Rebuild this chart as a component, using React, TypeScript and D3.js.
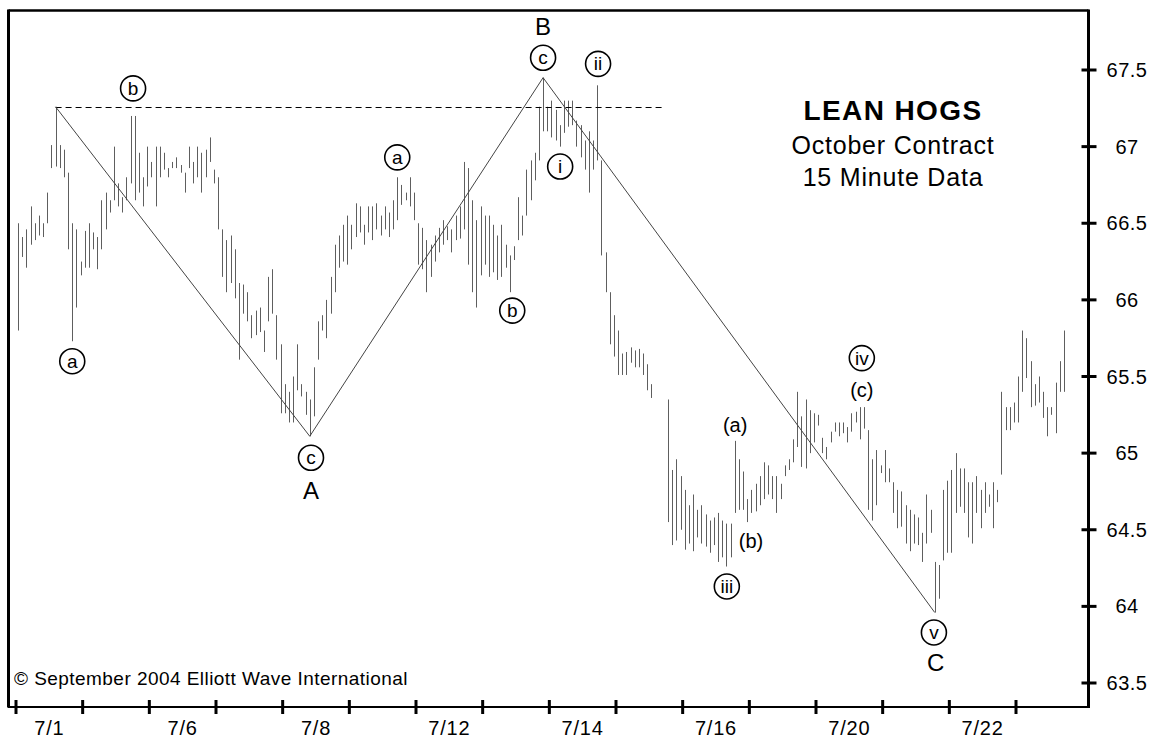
import React from 'react';
import * as d3 from 'd3';

// trading days on the x axis, one interval per session
const days = ['7/1', '7/2', '7/6', '7/7', '7/8', '7/9', '7/12', '7/13', '7/14', '7/15', '7/16', '7/19', '7/20', '7/21', '7/22', '7/23'];
const labeledDays = ['7/1', '7/6', '7/8', '7/12', '7/14', '7/16', '7/20', '7/22'];
const priceTicks = [63.5, 64, 64.5, 65, 65.5, 66, 66.5, 67, 67.5];
const barsPerDay = 16;

// 15 minute bars, high and low (null = no bar)
const highs = [
  66.50, 66.41, 66.46, 66.61, 66.50, 66.55, 66.50, 66.70, 67.01, 67.26, 67.01, 66.98, 66.83, 66.50, 66.46, 66.25,
  66.45, 66.50, 66.44, 66.41, 66.65, 66.70, 66.65, 67.00, 66.76, 66.67, 66.80, 67.20, 67.20, 66.96, 66.80, 67.00,
  66.90, 67.00, 67.00, 66.96, 66.86, 66.90, 66.93, 66.88, 66.83, 67.00, 66.90, 67.00, 66.96, 66.98, 67.06, 66.85,
  66.80, 66.46, 66.39, 66.42, 66.33, 66.11, 66.10, 66.05, 65.90, 65.93, 65.95, 65.80, 66.15, 66.20, 65.90, 65.71,
  65.45, 65.40, 65.50, 65.71, 65.45, 65.40, 65.35, 65.56, 65.86, 65.90, 66.00, 66.15, 66.36, 66.42, 66.49, 66.55,
  66.49, 66.63, 66.61, 66.49, 66.61, 66.61, 66.63, 66.55, 66.61, 66.57, 66.65, 66.80, 66.75, 66.70, 66.80, 66.70,
  66.50, 66.47, 66.39, 66.36, 66.42, 66.47, 66.52, 66.48, 66.46, 66.55, 66.61, 66.90, 66.86, 66.65, 66.52, 66.61,
  66.55, 66.55, 66.49, 66.42, 66.49, 66.36, 66.29, 66.35, 66.67, 66.55, 66.85, 66.91, 66.96, 67.26, 67.45, 67.26,
  67.30, 67.24, 67.14, 67.30, 67.30, 67.30, 67.17, 67.14, 67.04, 67.10, 67.04, 67.40, 66.91, 66.31, 66.05, 65.90,
  65.80, 65.65, 65.66, 65.69, 65.67, 65.68, 65.65, 65.58, 65.45, null, null, null, 65.35, 64.89, 64.96, 64.85,
  64.76, 64.66, 64.73, 64.63, 64.66, 64.60, 64.56, 64.58, 64.61, 64.56, 64.54, 64.54, 65.08, 64.96, 64.88, 64.70,
  64.76, 64.80, 64.85, 64.94, 64.92, 64.85, 64.85, 64.80, 64.92, 64.96, 65.09, 65.40, 65.24, 65.35, 65.28, 65.26,
  65.25, 65.10, 65.04, 65.14, 65.20, 65.20, 65.20, 65.17, 65.26, 65.27, 65.30, 65.30, 65.15, 64.96, 65.02, 64.92,
  65.02, 64.90, 64.81, 64.76, 64.75, 64.66, 64.63, 64.60, 64.58, 64.48, 64.73, 64.63, 64.29, 64.27, 64.76, 64.82,
  64.89, 65.00, 64.90, 64.90, 64.81, 64.81, 64.85, 64.76, 64.81, 64.73, 64.81, 64.76, 65.40, 65.30, 65.30, 65.33,
  65.50, 65.80, 65.75, 65.60, 65.45, 65.50, 65.40, 65.30, 65.30, 65.46, 65.60, 65.80,
];
const lows = [
  65.80, 66.28, 66.21, 66.36, 66.39, 66.42, 66.41, 66.50, 66.86, 66.87, 66.86, 66.80, 66.33, 65.73, 65.95, 66.16,
  66.21, 66.21, 66.33, 66.20, 66.33, 66.46, 66.57, 66.65, 66.61, 66.57, 66.65, 66.76, 66.65, 66.70, 66.61, 66.74,
  66.80, 66.61, 66.80, 66.85, 66.80, 66.86, 66.86, 66.83, 66.70, 66.86, 66.76, 66.80, 66.70, 66.80, 66.90, 66.76,
  66.46, 66.15, 66.05, 66.11, 66.01, 65.61, 65.91, 65.86, 65.75, 65.77, 65.79, 65.66, 65.86, 65.91, 65.61, 65.26,
  65.26, 65.20, 65.20, 65.41, 65.37, 65.25, 65.11, 65.24, 65.61, 65.80, 65.75, 65.91, 66.05, 66.21, 66.25, 66.23,
  66.33, 66.41, 66.44, 66.36, 66.44, 66.39, 66.46, 66.42, 66.46, 66.41, 66.46, 66.52, 66.62, 66.65, 66.61, 66.52,
  66.23, 66.20, 66.05, 66.15, 66.25, 66.31, 66.36, 66.39, 66.31, 66.39, 66.40, 66.46, 66.23, 66.05, 65.95, 66.16,
  66.23, 66.15, 66.18, 66.13, 66.15, 66.21, 66.05, 66.26, 66.39, 66.42, 66.55, 66.65, 66.78, 66.91, 67.10, 67.10,
  67.06, 67.04, 67.00, 67.09, 67.13, 67.14, 67.00, 66.93, 66.85, 66.70, 66.85, 66.91, 66.29, 66.05, 65.71, 65.63,
  65.51, 65.51, 65.51, 65.59, 65.56, 65.56, 65.51, 65.41, 65.36, null, null, null, 64.55, 64.40, 64.43, 64.50,
  64.37, 64.41, 64.36, 64.45, 64.41, 64.39, 64.35, 64.40, 64.29, 64.32, 64.26, 64.32, 64.61, 64.63, 64.63, 64.55,
  64.61, 64.62, 64.66, 64.70, 64.73, 64.70, 64.61, 64.70, 64.85, 64.89, 64.94, 65.04, 64.91, 64.90, 65.00, 65.07,
  65.18, 65.00, 64.96, 65.07, 65.14, 65.11, 65.13, 65.07, 65.14, 65.20, 65.09, 65.16, 64.63, 64.56, 64.66, 64.87,
  64.81, 64.81, 64.61, 64.51, 64.52, 64.41, 64.36, 64.41, 64.40, 64.29, 64.41, 64.48, 63.96, 64.05, 64.30, 64.35,
  64.35, 64.61, 64.65, 64.61, 64.45, 64.41, 64.61, 64.51, 64.61, 64.65, 64.51, 64.68, 64.86, 65.15, 65.15, 65.20,
  65.20, 65.40, 65.49, 65.30, 65.31, 65.33, 65.23, 65.11, 65.25, 65.13, 65.40, 65.40,
];

// zigzag pivots: start high, A low, B high, C low
const pivotBars = [9, 70, 126, 220];
const dashedFrom = 9;
const dashedTo = 155;

// wave labels (bar index, price level, text, kind)
const waveLabels = [
  { bar: 13, price: 65.60, text: 'a', kind: 'circle' },
  { bar: 27.6, price: 67.38, text: 'b', kind: 'circle' },
  { bar: 70.3, price: 64.97, text: 'c', kind: 'circle' },
  { bar: 70.3, price: 64.75, text: 'A', kind: 'big' },
  { bar: 91, price: 66.93, text: 'a', kind: 'circle' },
  { bar: 118.6, price: 65.93, text: 'b', kind: 'circle' },
  { bar: 126, price: 67.58, text: 'c', kind: 'circle' },
  { bar: 126, price: 67.78, text: 'B', kind: 'big' },
  { bar: 130.1, price: 66.87, text: 'i', kind: 'circle' },
  { bar: 139.2, price: 67.54, text: 'ii', kind: 'circle' },
  { bar: 172.1, price: 65.19, text: '(a)', kind: 'paren' },
  { bar: 175.9, price: 64.43, text: '(b)', kind: 'paren' },
  { bar: 170.1, price: 64.13, text: 'iii', kind: 'circle' },
  { bar: 202.5, price: 65.62, text: 'iv', kind: 'circle' },
  { bar: 202.5, price: 65.42, text: '(c)', kind: 'paren' },
  { bar: 219.8, price: 63.83, text: 'v', kind: 'circle' },
  { bar: 220.2, price: 63.63, text: 'C', kind: 'big' },
];

const FONT = '"Liberation Sans", Arial, Helvetica, sans-serif';

const App = () => {
  const width = 1152;
  const height = 740;
  const left = 8.5;
  const right = 1088.5;
  const top = 10.5;
  const bottom = 707;

  const x = d3.scaleLinear().domain([0, 15]).range([16, 1016]);
  const y = d3.scaleLinear().domain([63.5, 67.5]).range([683, 70]);
  const barX = (i: number) => Math.round(x((i + 0.5) / barsPerDay)) + 0.5;

  const zigzag = d3.line<number>()
    .x(i => x((i + 0.5) / barsPerDay))
    .y((i, k) => y(k % 2 === 0 ? (highs[i] as number) : (lows[i] as number)));

  return (
    <svg width={width} height={height} style={{ position: 'absolute', left: 0, top: 0, display: 'block', background: '#fff' }}>
      {/* price bars */}
      <g stroke="#5e5e5e" strokeWidth={1}>
        {highs.map((h, i) => (h == null || lows[i] == null ? null : (
          <line key={i} x1={barX(i)} x2={barX(i)} y1={y(h)} y2={y(lows[i] as number)} />
        )))}
      </g>

      {/* dashed reference level */}
      <line x1={x((dashedFrom + 0.5) / barsPerDay)} x2={x((dashedTo + 0.5) / barsPerDay)}
        y1={Math.round(y(highs[dashedFrom] as number)) + 0.5} y2={Math.round(y(highs[dashedFrom] as number)) + 0.5}
        stroke="#000" strokeWidth={1} strokeDasharray="6,4" />

      {/* wave zigzag */}
      <path d={zigzag(pivotBars) || ''} fill="none" stroke="#444" strokeWidth={1} />

      {/* frame */}
      <line x1={left} x2={right} y1={top} y2={top} stroke="#000" strokeWidth={2.5} />
      <line x1={left} x2={left} y1={top - 1} y2={bottom} stroke="#000" strokeWidth={3} />
      <line x1={right} x2={right} y1={top - 1} y2={bottom + 1} stroke="#000" strokeWidth={3} />
      <line x1={left - 1} x2={right} y1={bottom} y2={bottom} stroke="#000" strokeWidth={2} />

      {/* x axis */}
      {d3.range(0, 16).map(k => (
        <line key={k} x1={x(k)} x2={x(k)} y1={bottom - 7} y2={bottom + 7} stroke="#000" strokeWidth={3} />
      ))}
      {labeledDays.map(d => {
        const k = days.indexOf(d);
        return (
          <text key={d} x={x(k + 0.5)} y={735} textAnchor="middle" fontFamily={FONT} fontSize={20}
            letterSpacing={0.8} fill="#000">{d}</text>
        );
      })}

      {/* y axis */}
      {priceTicks.map(p => (
        <g key={p}>
          <line x1={right - 7} x2={right + 8} y1={y(p)} y2={y(p)} stroke="#000" strokeWidth={3} />
          <text x={1127} y={y(p) + 7} textAnchor="middle" fontFamily={FONT} fontSize={20}
            letterSpacing={0.5} fill="#000">{d3.format('')(p)}</text>
        </g>
      ))}

      {/* wave labels */}
      {waveLabels.map((l, i) => {
        const cx = x((l.bar + 0.5) / barsPerDay);
        const cy = y(l.price);
        if (l.kind === 'circle') {
          return (
            <g key={i}>
              <circle cx={cx} cy={cy} r={12.5} fill="#fff" stroke="#000" strokeWidth={1.6} />
              <text x={cx} y={cy + 6.5} textAnchor="middle" fontFamily={FONT} fontSize={19} fill="#000">{l.text}</text>
            </g>
          );
        }
        return (
          <text key={i} x={cx} y={cy + 8} textAnchor="middle" fontFamily={FONT}
            fontSize={l.kind === 'big' ? 24 : 20} fill="#000">{l.text}</text>
        );
      })}

      {/* title block */}
      <text x={893} y={120} textAnchor="middle" fontFamily={FONT} fontSize={28} fontWeight="bold"
        letterSpacing={1.4} fill="#000">LEAN HOGS</text>
      <text x={893} y={154} textAnchor="middle" fontFamily={FONT} fontSize={25}
        letterSpacing={0.8} fill="#000">October Contract</text>
      <text x={893} y={186} textAnchor="middle" fontFamily={FONT} fontSize={25}
        letterSpacing={0.8} fill="#000">15 Minute Data</text>

      <text x={14} y={685} fontFamily={FONT} fontSize={19} letterSpacing={0.45} fill="#000">© September 2004 Elliott Wave International</text>
    </svg>
  );
};

export default App;
